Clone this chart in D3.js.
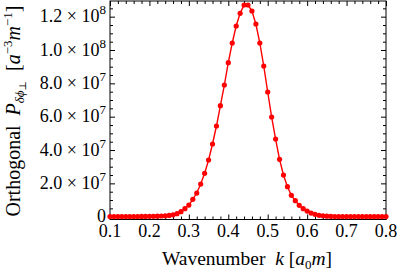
<!DOCTYPE html>
<html>
<head>
<meta charset="utf-8">
<script src="https://d3js.org/d3.v7.min.js"></script>
<style>
body { margin: 0; background: #fff; }
svg { display: block; }
</style>
</head>
<body>
<svg id="chart" width="400" height="272"></svg>
<script>
// wavenumber k [a0 m]
var kValues = [
  0.10, 0.11, 0.12, 0.13, 0.14, 0.15, 0.16, 0.17, 0.18, 0.19,
  0.20, 0.21, 0.22, 0.23, 0.24, 0.25, 0.26, 0.27, 0.28, 0.29,
  0.30, 0.31, 0.32, 0.33, 0.34, 0.35, 0.36, 0.37, 0.38, 0.39,
  0.40, 0.41, 0.42, 0.43, 0.44, 0.45, 0.46, 0.47, 0.48, 0.49,
  0.50, 0.51, 0.52, 0.53, 0.54, 0.55, 0.56, 0.57, 0.58, 0.59,
  0.60, 0.61, 0.62, 0.63, 0.64, 0.65, 0.66, 0.67, 0.68, 0.69,
  0.70, 0.71, 0.72, 0.73, 0.74, 0.75, 0.76, 0.77, 0.78, 0.79,
  0.80
];
// orthogonal power P [a^-3 m^-1]
var powerValues = [
  1.0e5, 1.0e5, 1.0e5, 1.0e5, 1.0e5, 1.0e5, 1.2e5, 1.3e5, 1.5e5, 1.7e5,
  2.0e5, 2.5e5, 3.2e5, 4.2e5, 5.5e5, 7.5e5, 1.1e6, 1.8e6, 3.0e6, 4.8e6,
  7.0e6, 1.04e7, 1.42e7, 1.96e7, 2.6e7, 3.4e7, 4.36e7, 5.44e7, 6.66e7, 7.9e7,
  9.24e7, 1.042e8, 1.144e8, 1.22e8, 1.27e8, 1.27e8, 1.234e8, 1.156e8, 1.042e8, 9.04e7,
  7.48e7, 5.98e7, 4.66e7, 3.44e7, 2.5e7, 1.8e7, 1.28e7, 9.6e6, 6.8e6, 4.8e6,
  3.4e6, 2.2e6, 1.4e6, 8.0e5, 5.0e5, 3.0e5, 2.0e5, 1.0e5, 1.0e5, 1.0e5,
  1.0e5, 1.0e5, 1.0e5, 1.0e5, 1.0e5, 1.0e5, 1.0e5, 1.0e5, 1.0e5, 1.0e5,
  1.0e5
];
var xTicks = [0.1, 0.2, 0.3, 0.4, 0.5, 0.6, 0.7, 0.8];
var xTickLabels = ["0.1", "0.2", "0.3", "0.4", "0.5", "0.6", "0.7", "0.8"];
var yTicks = [0, 2e7, 4e7, 6e7, 8e7, 1e8, 1.2e8];
// mantissa / exponent pairs for the y labels
var yTickMantissa = ["0", "2.0", "4.0", "6.0", "8.0", "1.0", "1.2"];
var yTickExponent = ["", "7", "7", "7", "7", "8", "8"];

var data = kValues.map(function(k, i) { return {k: k, p: powerValues[i]}; });

var serif = "'Liberation Serif', 'Times New Roman', 'DejaVu Serif', serif";
var plotLeft = 110, plotRight = 386, plotTop = 1, plotBottom = 219.5;
var svg = d3.select("#chart");

var x = d3.scaleLinear().domain([0.1, 0.8]).range([plotLeft, plotRight]);
var y = d3.scaleLinear().domain([-1.68e6, 1.294e8]).range([plotBottom, plotTop]);

var xMinor = d3.range(0.1, 0.8001, 0.02).filter(function(v) { return Math.abs(v * 10 - Math.round(v * 10)) > 1e-6; });
var yMinor = d3.range(0, 1.294e8, 5e6).filter(function(v) { return v % 2e7 !== 0; });

// ticks pointing inward on all four sides
function tickLines(g, axis) {
  g.call(axis);
  g.select(".domain").remove();
  g.selectAll(".tick line").attr("stroke", "#000").attr("stroke-width", 1);
}
svg.append("g").attr("transform", "translate(0," + plotBottom + ")")
  .call(tickLines, d3.axisBottom(x).tickValues(xMinor).tickSize(-3).tickFormat(""));
svg.append("g").attr("transform", "translate(0," + plotBottom + ")")
  .call(tickLines, d3.axisBottom(x).tickValues(xTicks).tickSize(-5).tickFormat(""));
svg.append("g").attr("transform", "translate(0," + plotTop + ")")
  .call(tickLines, d3.axisTop(x).tickValues(xMinor).tickSize(-3).tickFormat(""));
svg.append("g").attr("transform", "translate(0," + plotTop + ")")
  .call(tickLines, d3.axisTop(x).tickValues(xTicks).tickSize(-5).tickFormat(""));
svg.append("g").attr("transform", "translate(" + plotLeft + ",0)")
  .call(tickLines, d3.axisLeft(y).tickValues(yMinor).tickSize(-3).tickFormat(""));
svg.append("g").attr("transform", "translate(" + plotLeft + ",0)")
  .call(tickLines, d3.axisLeft(y).tickValues(yTicks).tickSize(-5).tickFormat(""));
svg.append("g").attr("transform", "translate(" + plotRight + ",0)")
  .call(tickLines, d3.axisRight(y).tickValues(yMinor).tickSize(-3).tickFormat(""));
svg.append("g").attr("transform", "translate(" + plotRight + ",0)")
  .call(tickLines, d3.axisRight(y).tickValues(yTicks).tickSize(-5).tickFormat(""));

// frame
svg.append("rect")
  .attr("x", plotLeft).attr("y", plotTop)
  .attr("width", plotRight - plotLeft).attr("height", plotBottom - plotTop)
  .attr("fill", "none").attr("stroke", "#000").attr("stroke-width", 1);

// x tick labels
svg.append("g").selectAll("text")
  .data(xTicks)
  .enter().append("text")
  .attr("x", function(d) { return x(d); })
  .attr("y", 237)
  .attr("text-anchor", "middle")
  .style("font-family", serif)
  .style("font-size", "18px")
  .text(function(d, i) { return xTickLabels[i]; });

// y tick labels
var yl = svg.append("g").selectAll("text")
  .data(yTicks)
  .enter().append("text")
  .attr("x", 106)
  .attr("y", function(d) { return y(d) + 5.5; })
  .attr("text-anchor", "end")
  .style("font-family", serif)
  .style("font-size", "18px");
yl.append("tspan").text(function(d, i) { return yTickMantissa[i]; });
yl.filter(function(d, i) { return yTickExponent[i] !== ""; })
  .append("tspan").text("\u2005\u00d7\u200510");
yl.filter(function(d, i) { return yTickExponent[i] !== ""; })
  .append("tspan").attr("dy", -8).style("font-size", "13px")
  .text(function(d) { return yTickExponent[yTicks.indexOf(d)]; });

// curve and points
var line = d3.line().x(function(d) { return x(d.k); }).y(function(d) { return y(d.p); });
svg.append("path")
  .datum(data)
  .attr("d", line)
  .attr("fill", "none")
  .attr("stroke", "#ff0000")
  .attr("stroke-width", 1.4);
svg.append("g").selectAll("circle")
  .data(data)
  .enter().append("circle")
  .attr("cx", function(d) { return x(d.k); })
  .attr("cy", function(d) { return y(d.p); })
  .attr("r", 2.6)
  .attr("fill", "#ff0000");

// x axis label
var xt = svg.append("text")
  .attr("x", 247).attr("y", 265)
  .attr("text-anchor", "middle")
  .style("font-family", serif)
  .style("font-size", "19.5px");
xt.append("tspan").text("Wavenumber\u2002");
xt.append("tspan").style("font-style", "italic").text("k");
xt.append("tspan").text(" [");
xt.append("tspan").style("font-style", "italic").text("a");
xt.append("tspan").attr("dy", 4).style("font-size", "13px").text("0");
xt.append("tspan").attr("dy", -4).style("font-style", "italic").text("m");
xt.append("tspan").text("]");

// y axis label
var yt = svg.append("text")
  .attr("transform", "translate(20,111) rotate(-90)")
  .attr("text-anchor", "middle")
  .style("font-family", serif)
  .style("font-size", "20px");
yt.append("tspan").text("Orthogonal\u2002");
yt.append("tspan").style("font-style", "italic").text("P");
yt.append("tspan").attr("dy", 4).style("font-size", "13px").style("font-style", "italic").text("\u03b4\u03d5");
yt.append("tspan").attr("dy", 2).style("font-size", "10px").text("\u22a5");
yt.append("tspan").attr("dy", -6).text("\u2002[");
yt.append("tspan").style("font-style", "italic").text("a");
yt.append("tspan").attr("dy", -8).style("font-size", "13px").text("\u22123");
yt.append("tspan").attr("dy", 8).style("font-style", "italic").text("m");
yt.append("tspan").attr("dy", -8).style("font-size", "13px").text("\u22121");
yt.append("tspan").attr("dy", 8).text("]");
</script>
</body>
</html>
